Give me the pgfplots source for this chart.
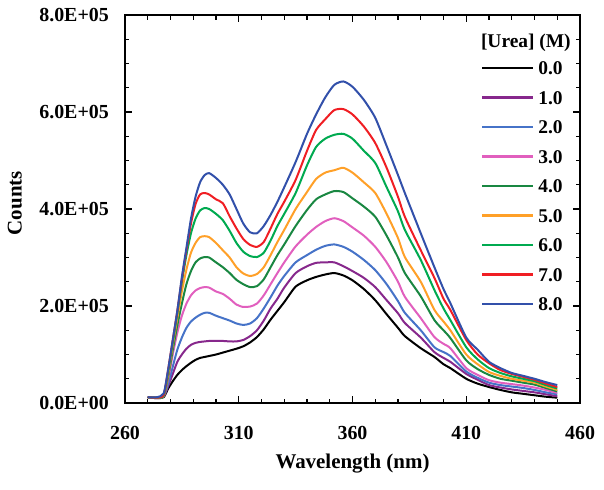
\documentclass[border=0pt]{standalone}
\usepackage{fontspec}
\setmainfont{Liberation Serif}
\usepackage{pgfplots}
\usepackage{pgfplotstable}
\pgfplotsset{compat=1.18}
\definecolor{ucA}{RGB}{0,0,0}
\definecolor{ucB}{RGB}{135,40,140}
\definecolor{ucC}{RGB}{70,115,200}
\definecolor{ucD}{RGB}{225,95,190}
\definecolor{ucE}{RGB}{25,135,65}
\definecolor{ucF}{RGB}{255,160,40}
\definecolor{ucG}{RGB}{0,170,80}
\definecolor{ucH}{RGB}{240,30,35}
\definecolor{ucI}{RGB}{50,80,170}
% counts in units of 1E+05
\pgfplotstableread{
nm  c0   c1   c2   c3   c4   c5   c6   c7   c8
270 0.12 0.12 0.12 0.12 0.12 0.12 0.12 0.12 0.12
274 0.10 0.10 0.11 0.11 0.11 0.11 0.11 0.11 0.12
277 0.12 0.13 0.15 0.15 0.15 0.15 0.15 0.17 0.20
279 0.30 0.35 0.40 0.50 0.55 0.60 0.65 0.70 0.70
281 0.45 0.60 0.75 1.00 1.10 1.20 1.25 1.30 1.30
283 0.58 0.85 1.10 1.45 1.60 1.75 1.85 1.90 1.90
285 0.68 1.00 1.35 1.80 2.05 2.30 2.50 2.55 2.60
287 0.76 1.12 1.55 2.05 2.45 2.75 3.05 3.15 3.20
289 0.83 1.20 1.68 2.22 2.72 3.10 3.50 3.70 3.80
291 0.89 1.24 1.76 2.32 2.90 3.30 3.80 4.10 4.25
293 0.93 1.26 1.82 2.37 2.98 3.42 3.97 4.30 4.55
295 0.95 1.27 1.86 2.39 3.01 3.44 4.02 4.33 4.70
297 0.97 1.28 1.86 2.38 3.00 3.42 4.00 4.30 4.74
300 1.00 1.28 1.80 2.30 2.90 3.30 3.90 4.20 4.64
303 1.04 1.28 1.75 2.25 2.80 3.15 3.77 4.12 4.50
306 1.08 1.27 1.70 2.15 2.68 3.00 3.55 3.85 4.30
309 1.12 1.27 1.64 2.03 2.54 2.80 3.30 3.60 4.00
312 1.17 1.30 1.61 1.98 2.45 2.67 3.12 3.38 3.70
315 1.25 1.38 1.64 1.99 2.39 2.62 3.03 3.26 3.52
318 1.36 1.50 1.75 2.05 2.41 2.66 3.01 3.22 3.50
321 1.52 1.70 1.95 2.22 2.55 2.80 3.10 3.32 3.65
324 1.72 1.95 2.18 2.45 2.80 3.05 3.35 3.60 3.88
327 1.90 2.15 2.42 2.68 3.05 3.32 3.65 3.90 4.15
330 2.08 2.38 2.62 2.90 3.27 3.57 3.90 4.15 4.45
335 2.40 2.68 2.90 3.23 3.65 4.00 4.33 4.60 4.97
340 2.53 2.82 3.05 3.47 3.98 4.35 4.90 5.20 5.55
344 2.60 2.89 3.16 3.63 4.20 4.62 5.28 5.63 5.95
348 2.65 2.90 3.24 3.75 4.30 4.75 5.45 5.85 6.30
352 2.68 2.90 3.27 3.81 4.37 4.80 5.53 6.04 6.56
356 2.63 2.82 3.22 3.75 4.35 4.85 5.55 6.06 6.63
360 2.53 2.72 3.12 3.62 4.22 4.75 5.45 5.95 6.52
365 2.35 2.58 2.95 3.45 4.05 4.55 5.20 5.70 6.25
370 2.12 2.39 2.74 3.22 3.84 4.33 4.95 5.36 5.88
375 1.83 2.12 2.45 2.90 3.45 3.90 4.45 4.85 5.30
380 1.55 1.85 2.10 2.50 3.00 3.40 3.95 4.25 4.70
383 1.38 1.65 1.86 2.19 2.68 3.01 3.57 3.84 4.33
390 1.13 1.35 1.50 1.75 2.20 2.50 2.95 3.15 3.50
396 0.95 1.05 1.15 1.36 1.71 1.92 2.33 2.58 2.80
400 0.80 0.93 1.05 1.22 1.50 1.68 1.95 2.15 2.35
403 0.72 0.85 0.97 1.13 1.34 1.50 1.71 1.92 2.06
410 0.50 0.60 0.65 0.72 0.88 1.00 1.15 1.30 1.35
415 0.40 0.48 0.52 0.58 0.70 0.80 0.90 1.00 1.10
420 0.33 0.37 0.42 0.47 0.58 0.64 0.72 0.82 0.85
425 0.27 0.32 0.37 0.42 0.50 0.56 0.62 0.68 0.72
430 0.22 0.28 0.34 0.39 0.46 0.50 0.55 0.60 0.62
435 0.19 0.25 0.31 0.36 0.42 0.46 0.50 0.54 0.56
440 0.16 0.22 0.27 0.32 0.38 0.42 0.45 0.48 0.50
445 0.13 0.18 0.22 0.27 0.31 0.34 0.37 0.40 0.43
450 0.11 0.14 0.18 0.21 0.24 0.27 0.30 0.33 0.37
}\spectra
\pgfplotsset{
 full/.style={scale only axis, width=455bp, height=388bp,
  xmin=260, xmax=460, ymin=0, ymax=8,
  xtick={260,310,360,410,460},
  xticklabels={260,310,360,410,460},
  minor x tick num=4,
  ytick={0,2,4,6,8},
  yticklabels={0.0E+00,2.0E+05,4.0E+05,6.0E+05,8.0E+05},
  minor y tick num=3,
  tick align=inside,
  major tick length=7bp, minor tick length=4.5bp,
  tick style={line width=1.3bp, black},
  axis line style={line width=1.6bp},
  axis on top,
  ticklabel style={font=\fontsize{20}{22}\selectfont\bfseries},
  yticklabel style={anchor=east, inner sep=0pt, xshift=-16bp},
  xticklabel style={anchor=north, inner sep=0pt, yshift=-23bp},
  label style={font=\fontsize{21}{23}\selectfont\bfseries},
  xlabel style={at={(axis description cs:0.5,-0.157)}, anchor=center},
  ylabel style={at={(axis description cs:-0.242,0.515)}, anchor=center},
  clip=false,
  legend style={at={(axis description cs:0.782,0.881)}, anchor=north west,
    draw=none, fill=none, inner sep=0pt,
    font=\fontsize{19.5}{20}\selectfont\bfseries,
    row sep=16bp, column sep=4bp,
    nodes={inner sep=0pt, text height=13.5bp, text depth=0pt}},
  legend cell align=left,
  legend image code/.code={\draw[##1, line width=2.4bp] (0bp,0bp) -- (51bp,0bp);},
  every axis plot/.append style={line width=2bp, line join=round, smooth, tension=0.4}},
}
\begin{document}
\begin{tikzpicture}
\begin{axis}[full, xlabel={Wavelength (nm)}, ylabel={Counts}]
\addplot[ucA, no markers] table[x=nm, y=c0] {\spectra};
\addlegendentry{0.0}
\addplot[ucB, no markers] table[x=nm, y=c1] {\spectra};
\addlegendentry{1.0}
\addplot[ucC, no markers] table[x=nm, y=c2] {\spectra};
\addlegendentry{2.0}
\addplot[ucD, no markers] table[x=nm, y=c3] {\spectra};
\addlegendentry{3.0}
\addplot[ucE, no markers] table[x=nm, y=c4] {\spectra};
\addlegendentry{4.0}
\addplot[ucF, no markers] table[x=nm, y=c5] {\spectra};
\addlegendentry{5.0}
\addplot[ucG, no markers] table[x=nm, y=c6] {\spectra};
\addlegendentry{6.0}
\addplot[ucH, no markers] table[x=nm, y=c7] {\spectra};
\addlegendentry{7.0}
\addplot[ucI, no markers] table[x=nm, y=c8] {\spectra};
\addlegendentry{8.0}
\node[font=\fontsize{19.5}{20}\selectfont\bfseries, anchor=center]
  at (axis description cs:0.881,0.928) {[Urea] (M)};
\path (axis description cs:-0.2747,-0.2216) (axis description cs:1.0527,1.0387);
\end{axis}
\end{tikzpicture}
\end{document}
